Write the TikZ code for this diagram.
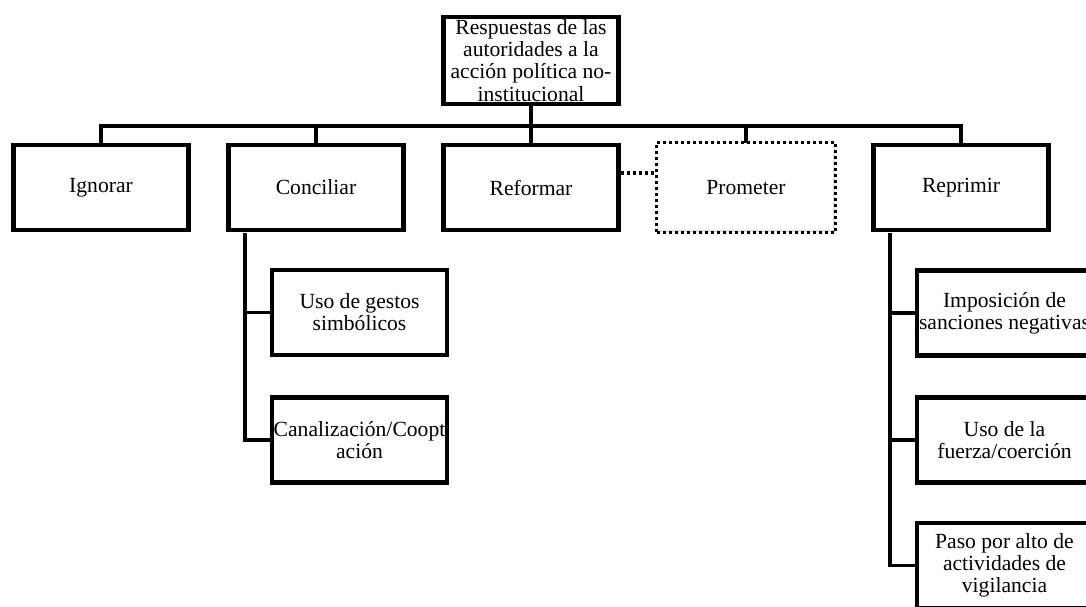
\documentclass[tikz,border=0pt]{standalone}
\usepackage{fontspec}
\setmainfont{Liberation Serif}
\usetikzlibrary{shadows}
\begin{document}
\begin{tikzpicture}[x=0.75pt,y=-0.75pt,
  box/.style={draw,line width=3.3pt,fill=white,rectangle,minimum width=131pt,minimum height=64pt,
    align=center,inner sep=0.5pt,font=\fontsize{16.2}{16.6}\selectfont,
    drop shadow={shadow xshift=1.2pt,shadow yshift=-1.2pt,opacity=0.25}},
  conn/.style={line width=2.4pt},
  dotconn/.style={line width=2.6pt,dash pattern=on 2.5pt off 2pt}]
\useasboundingbox (0,0) rectangle (1086,607);
\clip (0,0) rectangle (1086,607);
\fill[white] (0,0) rectangle (1086,607);
% nodes
\node[box,minimum height=65pt] (top) at (531,60.5) {Respuestas de las\\autoridades a la\\acción política no-\\institucional};
\node[box] (ign) at (101,187.5) {Ignorar};
\node[box] (conc) at (316,187.5) {Conciliar};
\node[box] (ref) at (531,187.5) {Reformar};
\node[box,draw=none] (prom) at (746,187.5) {Prometer};
\draw[dotconn] (prom.south west) rectangle (prom.north east);
\node[box] (repr) at (961,187.5) {Reprimir};
\node[box] (uso) at (359.5,312.5) {Uso de gestos\\simbólicos};
\node[box] (can) at (359.5,440) {Canalización/Coopt\\ación};
\node[box] (imp) at (1004.5,313) {Imposición de\\sanciones negativas};
\node[box] (fue) at (1004.5,440) {Uso de la\\fuerza/coerción};
\node[box] (pas) at (1004.5,565.5) {Paso por alto de\\actividades de\\vigilancia};
% connectors
\coordinate (bus) at (531,126);
\coordinate (busL) at (101,126);
\coordinate (busR) at (961,126);
\draw[conn] (top.south) -- (bus);
\draw[conn] ([xshift=-1.2pt]busL) -- ([xshift=1.2pt]busR);
\draw[conn] (ign.north) -- (ign.north |- bus);
\draw[conn] (conc.north) -- (conc.north |- bus);
\draw[conn] (ref.north) -- (ref.north |- bus);
\draw[conn] (prom.north) -- (prom.north |- bus);
\draw[conn] (repr.north) -- (repr.north |- bus);
\coordinate (cv) at (245,233);
\draw[conn] (cv) |- (can.west);
\draw[conn] (cv |- uso.west) -- (uso.west);
\coordinate (rv) at (890,233);
\draw[conn] (rv) |- (pas.west);
\draw[conn] (rv |- imp.west) -- (imp.west);
\draw[conn] (rv |- fue.west) -- (fue.west);
\coordinate (dc) at (620,173);
\draw[dotconn] (ref.east |- dc) -- (prom.west |- dc);
\end{tikzpicture}
\end{document}
